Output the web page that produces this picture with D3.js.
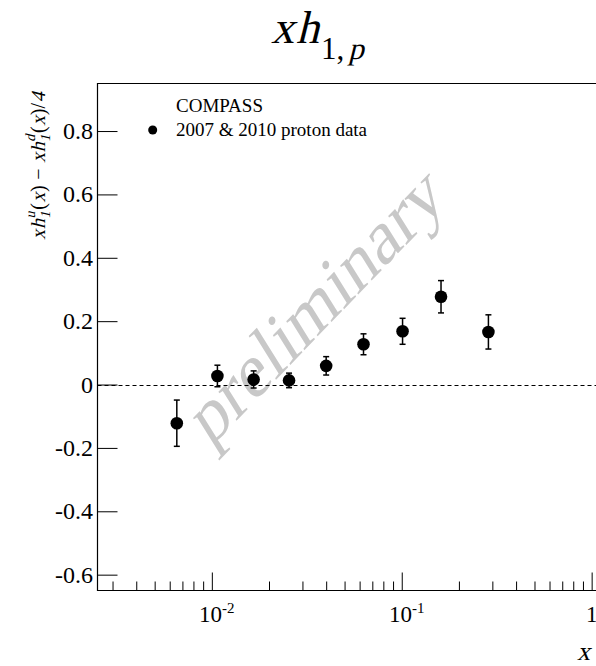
<!DOCTYPE html>
<html><head><meta charset="utf-8">
<script src="https://cdn.jsdelivr.net/npm/d3@7"></script>
<style>
html,body{margin:0;padding:0;background:#fff;}
svg{display:block;}
</style></head>
<body>
<svg id="chart" width="596" height="666"></svg>
<script>
// ---- data ----
const xValues = [0.00654, 0.0107, 0.0166, 0.0255, 0.040, 0.0629, 0.101, 0.161, 0.286];
const yValues = [-0.122, 0.027, 0.016, 0.013, 0.059, 0.127, 0.168, 0.277, 0.166];
const yErrors = [0.073, 0.034, 0.027, 0.023, 0.029, 0.033, 0.041, 0.051, 0.054];
const yTicks = [-0.6, -0.4, -0.2, 0, 0.2, 0.4, 0.6, 0.8];
const yTickLabels = ["-0.6", "-0.4", "-0.2", "0", "0.2", "0.4", "0.6", "0.8"];
const xMajorTicks = [0.01, 0.1, 1];
const xMajorLabels = [["10", "-2"], ["10", "-1"], ["1", ""]];
const legendTitle = "COMPASS";
const legendLabel = "2007 & 2010 proton data";

const FONT = "Liberation Serif";
const SKEW = " skewX(-14)";
const svg = d3.select("#chart");
const L = 97.5, T = 83.5, B = 590.5, R = 601;
const x = d3.scaleLog().domain([0.0025, 1.12]).range([L, R]);
const y = d3.scaleLinear().domain([-0.65, 0.95]).range([B, T]);

// rich text helper: segments laid side by side, italic = slanted Liberation Serif
function rich(parent, segs, size, gap) {
  const g = parent.append("g");
  let cx = 0, prevStart = 0;
  segs.forEach(s => {
    const fs = s.size || size;
    const start = s.stack ? prevStart : cx;
    const px = start + (s.dx || 0);
    const t = g.append("text").attr("font-family", FONT).attr("font-size", fs)
      .attr("fill", "#000")
      .attr("transform", `translate(${px},${s.dy || 0})` + (s.it ? SKEW : ""))
      .text(s.t);
    const w = t.node().getComputedTextLength();
    if (!s.stack) prevStart = start;
    cx = Math.max(cx, px + w + (gap || 0));
  });
  return {g, width: cx - (gap || 0)};
}

// watermark
svg.append("text")
  .attr("transform", "translate(210,448) rotate(-46)" + SKEW)
  .attr("font-family", FONT)
  .attr("font-size", 72)
  .attr("fill", "#c8c8c8")
  .attr("textLength", 342)
  .attr("lengthAdjust", "spacingAndGlyphs")
  .text("preliminary");

// zero dashed line
svg.append("line")
  .attr("x1", L).attr("x2", 596)
  .attr("y1", Math.round(y(0)) + 0.5).attr("y2", Math.round(y(0)) + 0.5)
  .attr("stroke", "#000").attr("stroke-width", 1)
  .attr("stroke-dasharray", "4,3");

// frame
svg.append("path")
  .attr("d", `M${R},${T}H${L}V${B}H${R}`)
  .attr("fill", "none").attr("stroke", "#000").attr("stroke-width", 1.2);

// y axis ticks
const yAxis = d3.axisRight(y).tickValues(yTicks).tickSize(20).tickFormat("");
const gy = svg.append("g").attr("transform", `translate(${L},0)`).call(yAxis);
gy.select(".domain").remove();
svg.append("g").selectAll("text").data(yTicks).join("text")
  .attr("font-family", FONT)
  .attr("x", 93).attr("y", d => y(d) + 8)
  .attr("text-anchor", "end").attr("font-size", 24)
  .text((d, i) => yTickLabels[i]);

// x axis ticks
const minorTicks = [];
[0.001, 0.01, 0.1].forEach(dec => { for (let k = 2; k <= 9; k++) minorTicks.push(dec * k); });
const xMinor = minorTicks.filter(v => v >= 0.0025 && v <= 1.12);
const gxMinor = svg.append("g").attr("transform", `translate(0,${B})`)
  .call(d3.axisTop(x).tickValues(xMinor).tickSize(9).tickFormat(""));
gxMinor.select(".domain").remove();
const gxMajor = svg.append("g").attr("transform", `translate(0,${B})`)
  .call(d3.axisTop(x).tickValues(xMajorTicks).tickSize(18).tickFormat(""));
gxMajor.select(".domain").remove();
svg.selectAll(".tick line").attr("stroke", "#000");

const xl = svg.append("g").selectAll("text").data(xMajorTicks).join("text")
  .attr("font-family", FONT)
  .attr("x", d => x(d)).attr("y", 622)
  .attr("text-anchor", "middle").attr("font-size", 23);
xl.append("tspan").text((d, i) => xMajorLabels[i][0]);
xl.append("tspan").attr("dy", -9).attr("font-size", 15).text((d, i) => xMajorLabels[i][1]);
xl.filter((d, i) => xMajorLabels[i][1] !== "").attr("dx", 5);

// x axis title
svg.append("text").attr("font-family", FONT).attr("font-size", 26)
  .attr("transform", "translate(577,660)" + SKEW).text("x");

// y axis title
const ylOuter = svg.append("g").attr("transform", "translate(45,166) rotate(-90)");
const ylr = rich(ylOuter, [
  {t: "x", it: true}, {t: "h", it: true},
  {t: "1", it: true, size: 14, dy: 5}, {t: "u", it: true, size: 14, dy: -10, stack: true},
  {t: "(", dx: 1}, {t: "x", it: true}, {t: ")"}, {t: "\u2212", dx: 5}, {t: "x", it: true, dx: 5}, {t: "h", it: true},
  {t: "1", it: true, size: 14, dy: 5}, {t: "d", it: true, size: 14, dy: -10, stack: true},
  {t: "(", dx: 1}, {t: "x", it: true}, {t: ")/"}, {t: "4", it: true}
], 20, 0.6);
ylr.g.attr("transform", `translate(${-ylr.width / 2},0)`);

// title
const tOuter = svg.append("g").attr("transform", "translate(271,43)");
rich(tOuter, [
  {t: "x", it: true}, {t: "h", it: true, dx: 2},
  {t: "1,", size: 31, dy: 16, dx: 2}, {t: "p", it: true, size: 31, dy: 16, dx: 4}
], 46, 0);

// data
const pts = xValues.map((v, i) => ({x: v, y: yValues[i], e: yErrors[i]}));
const g = svg.append("g");
g.selectAll("line.err").data(pts).join("line").attr("class", "err")
  .attr("x1", d => x(d.x)).attr("x2", d => x(d.x))
  .attr("y1", d => y(d.y - d.e)).attr("y2", d => y(d.y + d.e))
  .attr("stroke", "#000").attr("stroke-width", 1.5);
[-1, 1].forEach(s => {
  g.selectAll(null).data(pts).join("line")
    .attr("x1", d => x(d.x) - 3).attr("x2", d => x(d.x) + 3)
    .attr("y1", d => y(d.y + s * d.e)).attr("y2", d => y(d.y + s * d.e))
    .attr("stroke", "#000").attr("stroke-width", 1.5);
});
g.selectAll("circle").data(pts).join("circle")
  .attr("cx", d => x(d.x)).attr("cy", d => y(d.y)).attr("r", 6.3).attr("fill", "#000");

// legend
svg.append("circle").attr("cx", 152.7).attr("cy", 130).attr("r", 4.5).attr("fill", "#000");
svg.append("text").attr("font-family", FONT).attr("x", 176).attr("y", 112).attr("font-size", 19).text(legendTitle);
svg.append("text").attr("font-family", FONT).attr("x", 176).attr("y", 136).attr("font-size", 19).text(legendLabel);
</script>
</body></html>
